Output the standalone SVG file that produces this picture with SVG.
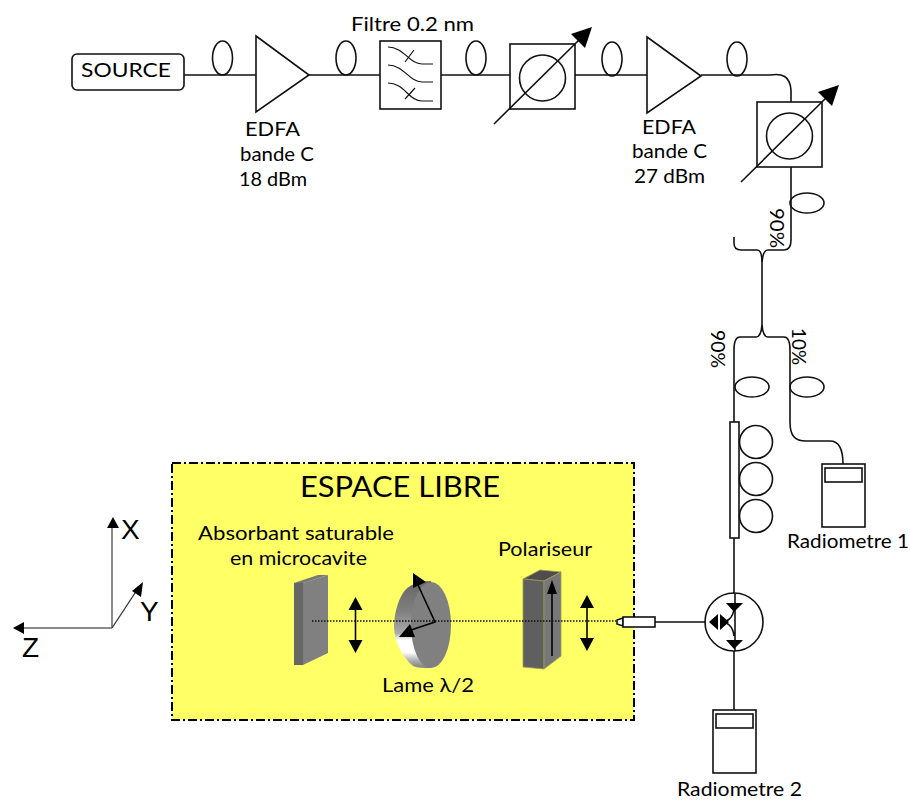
<svg xmlns="http://www.w3.org/2000/svg" width="910" height="801" viewBox="0 0 910 801">
<style>
text{font-family:"Lato","DejaVu Sans",sans-serif;font-size:20px;fill:#000}
.s{fill:none;stroke:#111;stroke-width:1.6}
.w{fill:#fff;stroke:#111;stroke-width:1.6}
.t{fill:none;stroke:#111;stroke-width:1.2}
.k{fill:#000;stroke:none}
.ax{font-family:"Liberation Sans",Arial,sans-serif;font-size:28px}
.pol{stroke:#9a9a50;stroke-width:.8}
</style>
<defs>
<ellipse id="ov" cx="0" cy="0" rx="10" ry="17" class="s"/>
<ellipse id="oh" cx="0" cy="0" rx="17" ry="10" class="s"/>
<linearGradient id="plate" x1="0" y1="0" x2="0" y2="1">
<stop offset="0" stop-color="#666"/><stop offset=".35" stop-color="#808080"/><stop offset=".6" stop-color="#aaa"/><stop offset=".68" stop-color="#fff"/><stop offset=".82" stop-color="#fff"/><stop offset=".92" stop-color="#aaa"/><stop offset="1" stop-color="#808080"/>
</linearGradient>
<g id="radiometer"><rect x="0" y="0" width="43" height="63" class="w"/><rect x="3" y="4" width="37" height="14" class="w"/></g>
<g id="dbl"><line x1="0" y1="8" x2="0" y2="48" stroke="#000" stroke-width="1.6"/><path class="k" d="M0 0L7 13H-7ZM0 56L7 43H-7Z"/></g>
<g id="att"><rect x="0" y="0" width="65" height="65" class="w"/><circle cx="32.500" cy="34" r="23" class="s"/><line x1="-16" y1="80" x2="72" y2="-7" class="s"/><path class="k" d="M82 -17L75 4 61 -10Z"/></g>
</defs>
<g id="connectors">
<path class="s" d="M184 75H256M309 75H380M441 75H511M575 75H647M701 75H770C782 73 790 76 791 90V102M791 167V240Q791 250 784 250H768Q763 250 762 262V325Q761 337 756 337H740Q734 337 734 350V422M734 538V594M734 651V710M655 622H706"/>
<path class="s" d="M734 237V243Q734 250 741 250H757Q762 250 762 262M762 325Q763 337 768 337H784Q790 337 790 350V422C790 436 795 441 806 441H830C840 441 843 450 843 464"/>
</g>
<g id="espace-libre">
<rect x="172" y="463" width="462" height="257" fill="#ffff66" stroke="#000" stroke-width="2" stroke-dasharray="9 3 2 3"/>
<text x="300" y="497" style="font-size:28px" textLength="200" lengthAdjust="spacingAndGlyphs">ESPACE LIBRE</text>
</g>
<g id="source"><rect x="72" y="54" width="112" height="36" rx="5" class="w"/><text x="81" y="77" textLength="90" lengthAdjust="spacingAndGlyphs">SOURCE</text></g>
<g id="loops">
<use href="#ov" x="222.500" y="58"/><use href="#ov" x="346" y="58"/><use href="#ov" x="476" y="58"/><use href="#ov" x="612" y="59"/><use href="#ov" x="737" y="59"/>
<use href="#oh" x="807" y="203"/><use href="#oh" x="752" y="387"/><use href="#oh" x="807" y="387"/>
</g>
<g id="edfa-1"><path class="w" d="M256 36L309 75 256 112Z"/>
<text x="245" y="136" textLength="55" lengthAdjust="spacingAndGlyphs">EDFA</text><text x="240" y="161" textLength="74" lengthAdjust="spacingAndGlyphs">bande C</text><text x="239" y="186" textLength="68" lengthAdjust="spacingAndGlyphs">18 dBm</text></g>
<g id="filtre"><rect x="380" y="41" width="61" height="68" class="w"/>
<path class="t" d="M388 47C404 47 409 64 422 64H433M388 65C404 65 409 82 422 82H433M388 83C404 83 409 101 422 101H433M405 62L414 50M405 99L415 88"/>
<text x="351" y="31" textLength="123" lengthAdjust="spacingAndGlyphs">Filtre 0.2 nm</text></g>
<g id="attenuateur-1"><use href="#att" x="510" y="44"/></g>
<g id="edfa-2"><path class="w" d="M647 37L701 76 647 113Z"/>
<text x="642" y="134" textLength="54" lengthAdjust="spacingAndGlyphs">EDFA</text><text x="632" y="158" textLength="75" lengthAdjust="spacingAndGlyphs">bande C</text><text x="634" y="183" textLength="71" lengthAdjust="spacingAndGlyphs">27 dBm</text></g>
<g id="attenuateur-2"><use href="#att" x="757" y="102"/></g>
<g id="coupleur-labels">
<text transform="translate(770 208) rotate(90)" textLength="40" lengthAdjust="spacingAndGlyphs">90%</text>
<text transform="translate(711 330) rotate(90)" textLength="38" lengthAdjust="spacingAndGlyphs">90%</text>
<text transform="translate(792 328) rotate(90)" textLength="37" lengthAdjust="spacingAndGlyphs">10%</text>
</g>
<g id="controleur-polarisation"><rect x="730" y="422" width="9" height="116" class="w"/><circle cx="756" cy="442" r="16.500" class="s"/><circle cx="756" cy="479" r="16.500" class="s"/><circle cx="756" cy="516" r="16.500" class="s"/></g>
<g id="radiometre-1"><use href="#radiometer" x="822" y="464"/><text x="787" y="548" textLength="122" lengthAdjust="spacingAndGlyphs">Radiometre 1</text></g>
<g id="separateur"><circle cx="734" cy="622" r="29" class="s"/>
<path class="s" d="M735 594V651M734 609C733 618 727 622 722 622C727 622 733 626 734 636"/>
<path class="k" d="M726 603H743L734 612ZM726 640H743L734 649ZM709 622L718 614V630ZM720 614L729 622 720 630Z"/></g>
<g id="radiometre-2"><use href="#radiometer" x="713" y="710"/><text x="677" y="796" textLength="125" lengthAdjust="spacingAndGlyphs">Radiometre 2</text></g>
<g id="absorbant">
<path d="M294 583L318 575H328L303 583Z" fill="#777"/><path d="M294 583H303V665H294Z" fill="#666"/><path d="M303 583L328 575V653L303 665Z" fill="#808080"/>
<text x="198" y="540" textLength="196" lengthAdjust="spacingAndGlyphs">Absorbant saturable</text><text x="230" y="565" textLength="137" lengthAdjust="spacingAndGlyphs">en microcavite</text>
</g>
<use id="fleche-1" href="#dbl" x="355.500" y="597"/>
<g id="lame">
<path d="M431 581C418 581 408 585 403 593C397 603 394 615 394 628C395 640 400 655 413 666C418 668 424 668 431 668Z" fill="url(#plate)"/>
<ellipse cx="431" cy="625" rx="20" ry="43" fill="#808080"/>
<path class="k" d="M413 573L426 582 413 588Z"/>
<path d="M418 585L435 622 405 632" fill="none" stroke="#000" stroke-width="1.6"/>
<path class="k" d="M399 637L410 624 415 637Z"/>
<text x="382" y="692" textLength="92" lengthAdjust="spacingAndGlyphs">Lame λ/2</text>
</g>
<g id="polariseur">
<path class="pol" d="M523 579L540 570 561 572 544 581Z" fill="#4d4d4d"/><path class="pol" d="M523 579L544 581V669L523 667Z" fill="#5f5f5f"/><path class="pol" d="M544 581L561 572V656L544 669Z" fill="#777"/>
<line x1="552" y1="590" x2="552" y2="656" stroke="#000" stroke-width="1.600"/><path class="k" d="M552 580L557 594H547Z"/>
<text x="498" y="556" textLength="94" lengthAdjust="spacingAndGlyphs">Polariseur</text>
</g>
<use id="fleche-2" href="#dbl" x="587" y="595"/>
<g id="faisceau"><line x1="312" y1="621" x2="616" y2="621" stroke="#111" stroke-width="1.500" stroke-dasharray="1.500 1.500"/></g>
<g id="collimateur"><path class="w" d="M623 618L617 620V624L623 626Z" stroke-width="1.200"/><rect x="623" y="617" width="32" height="10" fill="#fff" stroke="#111" stroke-width="1.600"/></g>
<g id="axes">
<path fill="none" stroke="#666" stroke-width="1.500" d="M112 628V525M112 628H22"/><line x1="112" y1="628" x2="137" y2="590" stroke="#333" stroke-width="1.300"/>
<path class="k" d="M113 517L119 528H107ZM13 628L24 622V634ZM143 582L141 597 132 591Z"/>
<text class="ax" x="121" y="539">X</text><text class="ax" x="140" y="621">Y</text><text class="ax" x="22" y="657">Z</text>
</g>
</svg>
